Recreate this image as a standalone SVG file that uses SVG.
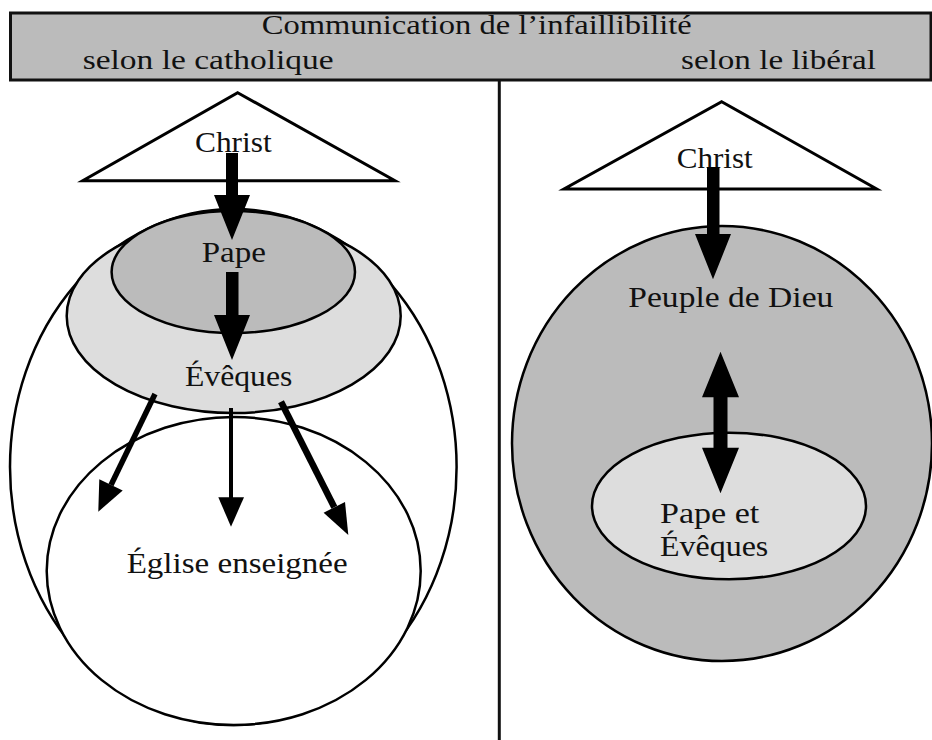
<svg xmlns="http://www.w3.org/2000/svg" width="932" height="740" viewBox="0 0 932 740">
<style>
  .t { font-family: "Liberation Serif", "Times New Roman", serif; fill: #111; }
  .h { font-size: 28px; }
  .b { font-size: 30px; }
  .ln { stroke: #000; stroke-width: 2.5; }
  .dark { fill: #bbbbbb; }
  .light { fill: #dddddd; }
  .white { fill: #ffffff; }
  .arr { fill: #000; stroke: none; }
  .shaft { stroke: #000; fill: none; stroke-linecap: butt; }
</style>
<rect x="0" y="0" width="932" height="740" fill="#ffffff"/>

<g id="header">
  <rect x="10.5" y="13" width="920.5" height="67" fill="#bbbbbb" stroke="#111" stroke-width="3"/>
  <text class="t h" x="261.7" y="34" textLength="430" lengthAdjust="spacingAndGlyphs">Communication de l’infaillibilité</text>
  <text class="t h" x="82.7" y="69" textLength="251" lengthAdjust="spacingAndGlyphs">selon le catholique</text>
  <text class="t h" x="681" y="69" textLength="195" lengthAdjust="spacingAndGlyphs">selon le libéral</text>
</g>

<g id="divider">
  <line x1="499.3" y1="81" x2="499.3" y2="740" stroke="#111" stroke-width="3"/>
</g>

<!-- Left: catholic -->
<g id="eglise-outer">
  <ellipse cx="233.3" cy="467" rx="223.3" ry="258" class="white ln"/>
</g>
<g id="eglise-enseignee">
  <ellipse cx="233.7" cy="571" rx="187" ry="154" class="white ln"/>
  <text class="t b" x="126.7" y="572.7" textLength="221" lengthAdjust="spacingAndGlyphs">Église enseignée</text>
</g>
<g id="eveques">
  <ellipse cx="233.7" cy="316" rx="167" ry="97" class="light ln"/>
  <text class="t b" x="185" y="386" textLength="107.3" lengthAdjust="spacingAndGlyphs">Évêques</text>
</g>
<g id="pape">
  <ellipse cx="233.3" cy="272" rx="121.7" ry="61" class="dark ln"/>
  <text class="t b" x="201.7" y="261.7" textLength="64.3" lengthAdjust="spacingAndGlyphs">Pape</text>
</g>
<g id="christ-left">
  <polygon points="237.7,92.7 395,180.7 82.7,180.7" class="white" stroke="#000" stroke-width="3" stroke-linejoin="miter"/>
  <text class="t b" x="195" y="151.7" textLength="76.7" lengthAdjust="spacingAndGlyphs">Christ</text>
</g>

<!-- Right: liberal -->
<g id="peuple">
  <ellipse cx="722" cy="443.5" rx="210" ry="217.5" class="dark ln"/>
  <text class="t b" x="628.3" y="306.7" textLength="205" lengthAdjust="spacingAndGlyphs">Peuple de Dieu</text>
</g>
<g id="pape-eveques">
  <ellipse cx="729" cy="506" rx="137" ry="73.3" class="light ln"/>
  <text class="t b" x="660" y="522.7" textLength="99.3" lengthAdjust="spacingAndGlyphs">Pape et</text>
  <text class="t b" x="660" y="556" textLength="108.3" lengthAdjust="spacingAndGlyphs">Évêques</text>
</g>
<g id="christ-right">
  <polygon points="721.7,101.7 876.7,189 564,189" class="white" stroke="#000" stroke-width="3"/>
  <text class="t b" x="676.7" y="168.3" textLength="76" lengthAdjust="spacingAndGlyphs">Christ</text>
</g>

<g id="connectors">
  <!-- Christ -> Pape -->
  <polygon class="arr" points="226,153 238,153 238,195 250,195 232,240 214,195 226,195"/>
  <!-- Pape -> Évêques -->
  <polygon class="arr" points="226,272 238.5,272 238.5,315 250,315 232,360 214,315 226,315"/>
  <!-- Évêques -> Église (left) -->
  <line class="shaft" x1="155" y1="394" x2="111" y2="485" stroke-width="5.5"/>
  <polygon class="arr" points="98.3,511.7 122.7,490.6 99.3,479.3"/>
  <!-- Évêques -> Église (middle) -->
  <line class="shaft" x1="231" y1="408" x2="231" y2="498" stroke-width="4"/>
  <polygon class="arr" points="218.3,497.3 244,497.3 231,526.7"/>
  <!-- Évêques -> Église (right) -->
  <line class="shaft" x1="281" y1="401.7" x2="334.3" y2="507.3" stroke-width="6.5"/>
  <polygon class="arr" points="348.3,535 345,501.9 323.6,512.7"/>
  <!-- Christ -> Peuple -->
  <polygon class="arr" points="707,167 719.5,167 719.5,234 731,234 713,279.3 695,234 707,234"/>
  <!-- Peuple <-> Pape et Évêques -->
  <polygon class="arr" points="720.5,351.7 739,397.3 727.5,397.3 727.5,447.7 739,447.7 720.5,493.3 702,447.7 713.5,447.7 713.5,397.3 702,397.3"/>
</g>
</svg>
